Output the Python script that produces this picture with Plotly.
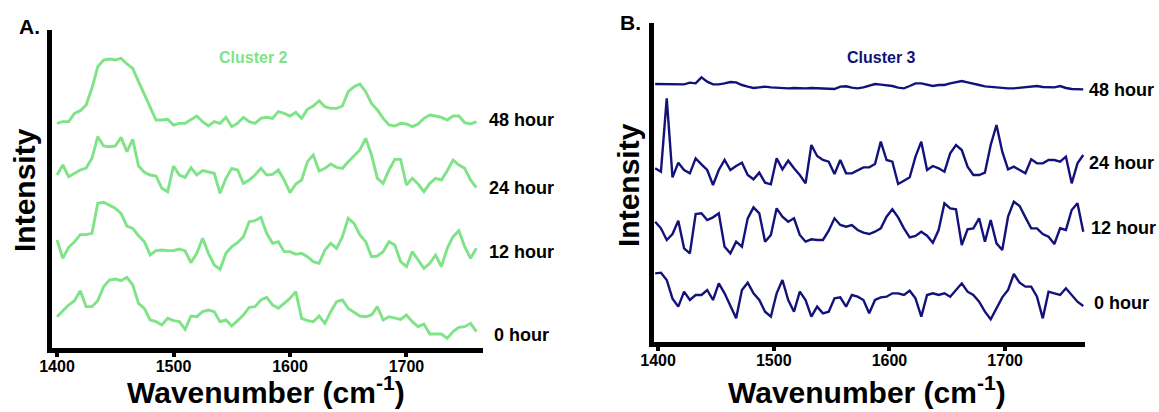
import numpy as np
import plotly.graph_objects as go

# ---------------- data ----------------
# Panel A (Cluster 2) wavenumber grid (cm-1)
wavenumber_a = np.arange(1400, 1761, 5)
# Panel B (Cluster 3) wavenumber grid (cm-1)
wavenumber_b = np.arange(1397.5, 1768, 5)

time_labels = ["48 hour", "24 hour", "12 hour", "0 hour"]

# Cluster 2 spectra (a.u., relative to each trace's stacking offset)
c2_48h = [20, 25, 25, 50, 58, 75, 125, 190, 210, 213, 210, 215, 198, 185, 145, 105, 65, 30, 30, 32,
          15, 20, 20, 30, 42, 25, 12, 25, 20, 38, 10, 20, 38, 25, 20, 35, 38,
          35, 55, 50, 42, 53, 35, 62, 72, 88, 70, 65, 65, 72, 115, 130, 138, 115, 80, 60, 35,
          15, 12, 20, 18, 10, 18, 35, 45, 42, 38, 30, 42, 42, 22, 18, 25]
c2_24h = [65, 95, 60, 70, 80, 86, 115, 180, 152, 150, 152, 178, 135, 172, 92, 73, 65, 62, 25, 15,
          92, 65, 58, 87, 65, 78, 75, 70, 10, 55, 85, 80, 40, 50, 65, 85, 65,
          67, 80, 50, 12, 38, 50, 105, 125, 77, 85, 98, 88, 85, 105, 122, 140, 175, 125, 55, 40,
          80, 112, 112, 35, 55, 38, 15, 40, 55, 50, 78, 110, 95, 85, 50, 27]
c2_12h = [100, 45, 78, 95, 116, 116, 120, 210, 213, 205, 195, 180, 142, 135, 113, 95, 55, 68, 70, 68,
          68, 73, 67, 32, 60, 105, 60, 25, 12, 60, 80, 92, 110, 155, 158, 168, 120,
          90, 95, 65, 65, 57, 60, 50, 35, 30, 70, 90, 75, 110, 165, 150, 115, 95, 50, 52,
          65, 95, 85, 35, 20, 65, 40, 15, 30, 55, 20, 75, 110, 128, 80, 45, 75]
c2_0h = [70, 88, 105, 118, 148, 100, 100, 118, 160, 180, 183, 178, 188, 165, 110, 95, 60, 55, 45, 65,
         58, 55, 32, 72, 70, 85, 90, 85, 55, 60, 42, 58, 75, 98, 100, 120, 128,
         105, 95, 110, 125, 145, 65, 58, 55, 72, 50, 85, 115, 120, 95, 83, 72, 70, 75, 100,
         60, 70, 65, 62, 75, 55, 40, 48, 18, 18, 18, 5, 25, 38, 40, 50, 25]
c2_offsets = [660, 460, 230, 30]

# Cluster 3 spectra (a.u., relative to each trace's stacking offset)
c3_48h = [28, 28, 28, 28, 28, 27, 32, 30, 48, 35, 27, 27, 30, 34, 33, 25, 20, 16, 18, 20,
          18, 17, 15, 15, 16, 15, 15, 16, 15, 15, 14, 13, 20, 21, 17, 15, 18,
          23, 28, 26, 24, 22, 17, 15, 22, 30, 30, 25, 22, 25, 25, 30, 34, 37, 33, 28,
          25, 21, 19, 18, 17, 15, 15, 17, 18, 20, 22, 19, 18, 18, 22, 16, 13, 12, 12]
c3_24h = [75, 65, 285, 48, 92, 70, 60, 105, 87, 70, 25, 70, 100, 70, 82, 92, 55, 42, 62, 32,
          27, 105, 72, 98, 75, 55, 30, 145, 112, 100, 95, 58, 100, 60, 60, 70, 78,
          78, 88, 155, 100, 95, 28, 38, 48, 110, 155, 70, 82, 75, 65, 120, 145, 130, 80, 55,
          55, 62, 145, 205, 125, 72, 80, 70, 60, 102, 90, 90, 100, 100, 95, 110, 30, 90, 115]
c3_12h = [135, 115, 80, 98, 138, 55, 40, 158, 160, 140, 148, 160, 60, 40, 75, 60, 145, 178, 160, 75,
          95, 175, 150, 135, 145, 95, 75, 82, 80, 80, 108, 145, 125, 120, 125, 110, 102,
          98, 105, 115, 150, 172, 148, 115, 88, 92, 105, 93, 72, 110, 190, 175, 172, 65, 112, 115,
          145, 75, 140, 70, 50, 150, 195, 182, 148, 115, 115, 98, 90, 68, 115, 110, 170, 190, 105]
c3_0h = [186, 188, 166, 110, 86, 131, 106, 121, 121, 136, 106, 156, 126, 86, 51, 136, 158, 126, 106, 71,
         56, 126, 166, 106, 71, 131, 106, 56, 86, 66, 71, 111, 114, 86, 121, 116, 106,
         66, 106, 114, 116, 126, 126, 121, 134, 111, 56, 121, 126, 121, 126, 116, 136, 156, 131, 121,
         101, 71, 48, 81, 114, 136, 184, 158, 146, 146, 116, 51, 131, 126, 121, 141, 121, 101, 88]
c3_offsets = [746, 446, 226, 20]

x_ticks = [1400, 1500, 1600, 1700]

# ---------------- styling ----------------
W, H = 1159, 412
GREEN = "#7fe387"
NAVY = "#12127a"
FONT = "Liberation Sans, Arial, sans-serif"


def px(x):
    return x / W


def py(y):
    return 1 - y / H


fig = go.Figure()

for vals, off in zip([c2_48h, c2_24h, c2_12h, c2_0h], c2_offsets):
    fig.add_trace(go.Scatter(x=wavenumber_a, y=np.array(vals) + off, mode="lines",
                             line=dict(color=GREEN, width=2.9), xaxis="x", yaxis="y",
                             showlegend=False, hoverinfo="skip"))
for vals, off in zip([c3_48h, c3_24h, c3_12h, c3_0h], c3_offsets):
    fig.add_trace(go.Scatter(x=wavenumber_b, y=np.array(vals) + off, mode="lines",
                             line=dict(color=NAVY, width=2.4), xaxis="x2", yaxis="y2",
                             showlegend=False, hoverinfo="skip"))

xcommon = dict(showline=True, linewidth=5, linecolor="black", ticks="outside", ticklen=4,
               tickwidth=4, tickcolor="black", tickvals=x_ticks, showgrid=False, zeroline=False,
               tickfont=dict(family=FONT, size=16, color="black", weight="bold"),
               ticklabelstandoff=-4, fixedrange=True, automargin=False)
ycommon = dict(showline=True, linewidth=5, linecolor="black", ticks="", showticklabels=False,
               showgrid=False, zeroline=False, fixedrange=True, automargin=False)

fig.update_layout(
    width=W, height=H, margin=dict(l=0, r=0, t=0, b=0, pad=0, autoexpand=False),
    paper_bgcolor="white", plot_bgcolor="white",
    xaxis=dict(domain=[px(52), px(483)], range=[1395.7, 1765.7], anchor="y", **xcommon),
    yaxis=dict(domain=[py(348), py(30)], range=[6, 960], anchor="x", **ycommon),
    xaxis2=dict(domain=[px(654), px(1085)], range=[1396.5, 1769], anchor="y2", **xcommon),
    yaxis2=dict(domain=[py(342), py(23)], range=[0, 957], anchor="x2", **ycommon),
)

ann = []


def text(t, x, y, size, color="black", angle=0, xanchor="center"):
    ann.append(dict(text=t, x=px(x), y=py(y), xref="paper", yref="paper", showarrow=False,
                    xanchor=xanchor, yanchor="middle", textangle=angle,
                    font=dict(family=FONT, size=size, color=color, weight="bold")))


text("A.", 29, 27, 21)
text("B.", 630, 23, 21)
text("Cluster 2", 253, 57, 16, GREEN)
text("Cluster 3", 881, 57, 16, NAVY)
text("Intensity", 24, 190, 30, angle=-90)
text("Intensity", 628, 185, 30, angle=-90)
text("Wavenumber (cm<sup>-1</sup>)", 266, 390, 30)
text("Wavenumber (cm<sup>-1</sup>)", 867, 390, 30)

for lab, x, y in zip(time_labels, [487, 487, 487, 492], [120, 188, 252, 335]):
    text(lab, x, y, 18, xanchor="left")
for lab, x, y in zip(time_labels, [1087, 1087, 1089, 1092], [90, 163, 228, 303]):
    text(lab, x, y, 18, xanchor="left")

fig.update_layout(annotations=ann)
fig.write_html("out.html", config={"displayModeBar": False},
               post_script="document.body.style.margin='0';")
